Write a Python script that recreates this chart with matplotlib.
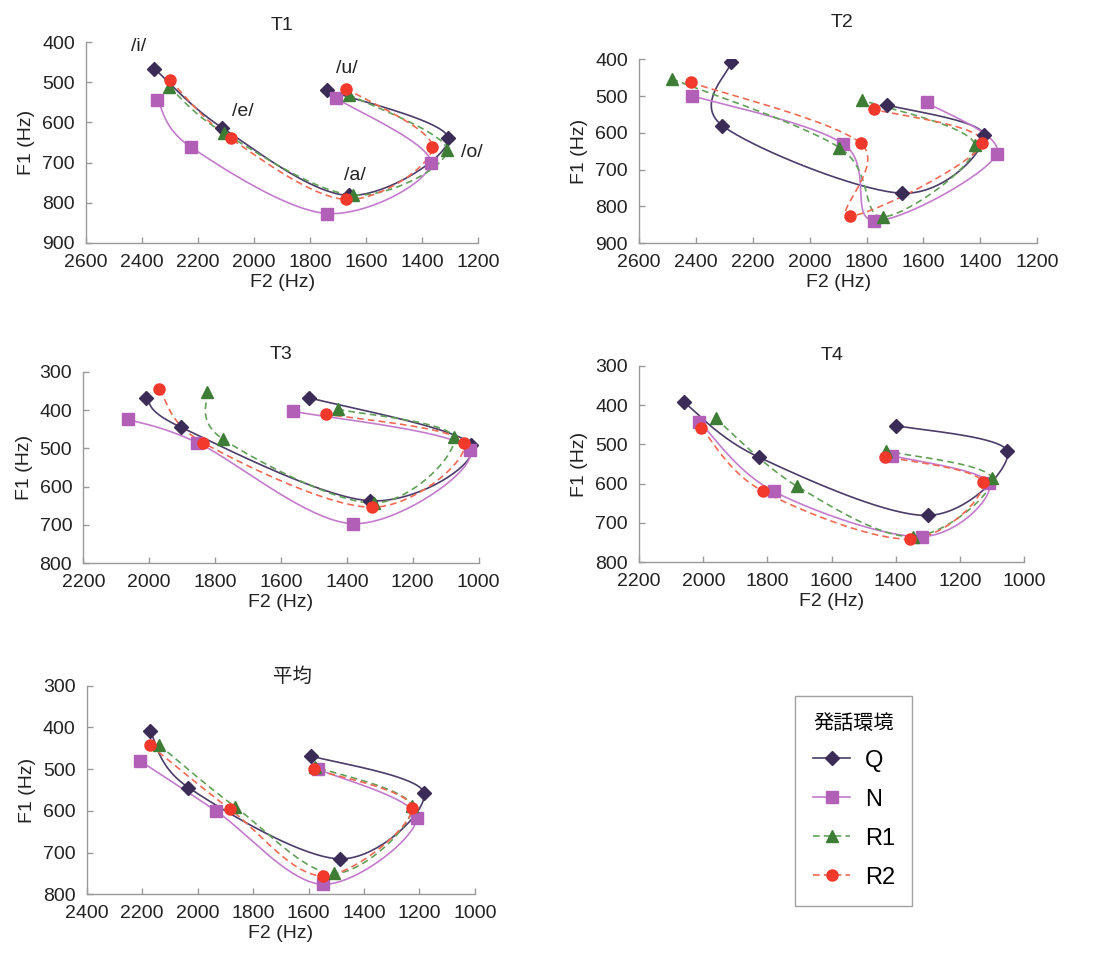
import numpy as np
import matplotlib
matplotlib.use("Agg")
from matplotlib import pyplot as plt

plt.rcParams["font.family"] = ["Liberation Sans", "Noto Sans CJK JP", "DejaVu Sans"]

# vowel order along each curve: /i/ /e/ /a/ /o/ /u/
conditions = ["Q", "N", "R1", "R2"]

# T1 (F2, F1) per condition
t1_f2 = {
    "Q": [2356, 2113, 1662, 1307, 1739],
    "N": [2345, 2225, 1739, 1369, 1709],
    "R1": [2303, 2108, 1648, 1311, 1660],
    "R2": [2300, 2084, 1670, 1363, 1670],
}
t1_f1 = {
    "Q": [466, 614, 782, 638, 520],
    "N": [545, 662, 827, 701, 539],
    "R1": [512, 626, 781, 668, 531],
    "R2": [495, 640, 792, 661, 516],
}

t2_f2 = {
    "Q": [2276, 2308, 1674, 1388, 1730],
    "N": [2414, 1882, 1773, 1343, 1589],
    "R1": [2486, 1896, 1742, 1419, 1818],
    "R2": [2418, 1821, 1859, 1393, 1773],
}
t2_f1 = {
    "Q": [407, 580, 764, 605, 524],
    "N": [499, 630, 839, 658, 517],
    "R1": [453, 640, 828, 633, 510],
    "R2": [463, 628, 826, 628, 536],
}

t3_f2 = {
    "Q": [2010, 1903, 1331, 1022, 1516],
    "N": [2065, 1854, 1380, 1027, 1562],
    "R1": [1826, 1776, 1319, 1076, 1426],
    "R2": [1969, 1837, 1324, 1045, 1462],
}
t3_f1 = {
    "Q": [367, 445, 637, 492, 367],
    "N": [424, 485, 697, 504, 403],
    "R1": [352, 476, 643, 470, 398],
    "R2": [346, 485, 654, 485, 410],
}

t4_f2 = {
    "Q": [2060, 1826, 1300, 1052, 1399],
    "N": [2013, 1780, 1317, 1108, 1411],
    "R1": [1962, 1707, 1345, 1101, 1430],
    "R2": [2006, 1813, 1356, 1129, 1433],
}
t4_f1 = {
    "Q": [393, 533, 681, 517, 452],
    "N": [442, 620, 735, 599, 529],
    "R1": [434, 607, 735, 585, 517],
    "R2": [459, 620, 741, 596, 531],
}

avg_f2 = {
    "Q": [2172, 2033, 1487, 1184, 1592],
    "N": [2208, 1934, 1549, 1210, 1565],
    "R1": [2139, 1865, 1507, 1228, 1577],
    "R2": [2172, 1883, 1547, 1226, 1579],
}
avg_f1 = {
    "Q": [408, 544, 715, 556, 468],
    "N": [480, 600, 776, 616, 500],
    "R1": [442, 590, 750, 589, 494],
    "R2": [442, 596, 756, 592, 500],
}

vowel_labels = ["/i/", "/e/", "/a/", "/o/", "/u/"]
vowel_label_f2 = [2413, 2039, 1640, 1224, 1670]
vowel_label_f1 = [412, 574, 732, 674, 466]

styles = {
    "Q": dict(marker="D", mfc="#3b2b57", mec="#3b2b57", ms=7, color="#4b3c68", ls="-"),
    "N": dict(marker="s", mfc="#b25fb8", mec="#b25fb8", ms=8, color="#c27ccb", ls="-"),
    "R1": dict(marker="^", mfc="#3e7d36", mec="#3e7d36", ms=8.5, color="#62a05a", ls=(0, (4, 2.5))),
    "R2": dict(marker="o", mfc="#f2392c", mec="#f2392c", ms=8, color="#f26a55", ls=(0, (4, 2.5))),
}

panels = [
    ("T1", t1_f2, t1_f1, (2600, 1200), (900, 400), [0.078, 0.746, 0.355, 0.210], 9, 0.5),
    ("T2", t2_f2, t2_f1, (2600, 1200), (900, 400), [0.579, 0.7455, 0.3605, 0.1925], 23, 0.51),
    ("T3", t3_f2, t3_f1, (2200, 1000), (800, 300), [0.0755, 0.411, 0.358, 0.200], 9, 0.5),
    ("T4", t4_f2, t4_f1, (2200, 1000), (800, 300), [0.579, 0.412, 0.3485, 0.2053], 4, 0.5),
    ("平均", avg_f2, avg_f1, (2400, 1000), (800, 300), [0.0785, 0.0645, 0.3517, 0.2182], 2, 0.53),
]


def smooth_curve(ax, xs, ys, n=40):
    # Excel-style smoothed line: cubic Bezier through points, built in display space
    pts = ax.transData.transform(np.column_stack([xs, ys]))
    p = np.vstack([pts[0], pts, pts[-1]])
    out = []
    t = np.linspace(0, 1, n)[:, None]
    for i in range(1, len(p) - 2):
        p0, p1, p2, p3 = p[i - 1], p[i], p[i + 1], p[i + 2]
        c1 = p1 + (p2 - p0) / 6
        c2 = p2 - (p3 - p1) / 6
        seg = ((1 - t) ** 3) * p1 + 3 * ((1 - t) ** 2) * t * c1 + 3 * (1 - t) * t ** 2 * c2 + t ** 3 * p2
        out.append(seg)
    curve = np.vstack(out)
    back = ax.transData.inverted().transform(curve)
    return back[:, 0], back[:, 1]


fig = plt.figure(figsize=(11.04, 9.56), dpi=100)

handles = []
for title, f2s, f1s, xlim, ylim, pos, tpad, tx in panels:
    ax = fig.add_axes(pos)
    ax.set_xlim(*xlim)
    ax.set_ylim(*ylim)
    ax.set_xticks(np.arange(xlim[1], xlim[0] + 1, 200))
    ax.set_yticks(np.arange(ylim[1], ylim[0] + 1, 100))
    for side in ["top", "right"]:
        ax.spines[side].set_visible(False)
    for side in ["left", "bottom"]:
        ax.spines[side].set_color("#9a9a9a")
        ax.spines[side].set_linewidth(1.0)
    ax.tick_params(direction="in", length=4, width=1.0, color="#9a9a9a",
                   labelsize=14, pad=8, labelcolor="#222222")
    ax.set_xlabel("F2 (Hz)", fontsize=14, labelpad=2, color="#222222")
    ax.set_ylabel("F1 (Hz)", fontsize=14, labelpad=5, color="#222222")
    ax.set_title(title, fontsize=14, pad=tpad, color="#222222", x=tx)

    for cond in conditions:
        st = styles[cond]
        cx, cy = smooth_curve(ax, f2s[cond], f1s[cond])
        ax.plot(cx, cy, color=st["color"], ls=st["ls"], lw=1.2, zorder=2)
        ax.plot(f2s[cond], f1s[cond], ls="none", marker=st["marker"], ms=st["ms"],
                mfc=st["mfc"], mec=st["mec"], zorder=3)

    if title == "T1":
        for lab, lx, ly in zip(vowel_labels, vowel_label_f2, vowel_label_f1):
            ax.text(lx, ly, lab, fontsize=14, ha="center", va="center", color="#222222")

# legend
for cond in conditions:
    st = styles[cond]
    h, = plt.plot([], [], color=st["color"], ls=st["ls"], lw=1.2, marker=st["marker"],
                  ms=st["ms"], mfc=st["mfc"], mec=st["mec"], label=cond)
    handles.append(h)
leg = fig.legend(handles=handles, title="発話環境", loc="upper left",
                 bbox_to_anchor=(795 / 1104, 1 - 696 / 956), fontsize=17,
                 title_fontsize=14.5, frameon=True, fancybox=False, labelspacing=0.72,
                 handlelength=1.6, handletextpad=0.6, borderpad=0.75, borderaxespad=0)
leg.get_frame().set_edgecolor("#8a8a8a")
leg.get_frame().set_linewidth(1.0)
leg._legend_box.align = "center"

fig.savefig("out.png", dpi=100, facecolor="white")
